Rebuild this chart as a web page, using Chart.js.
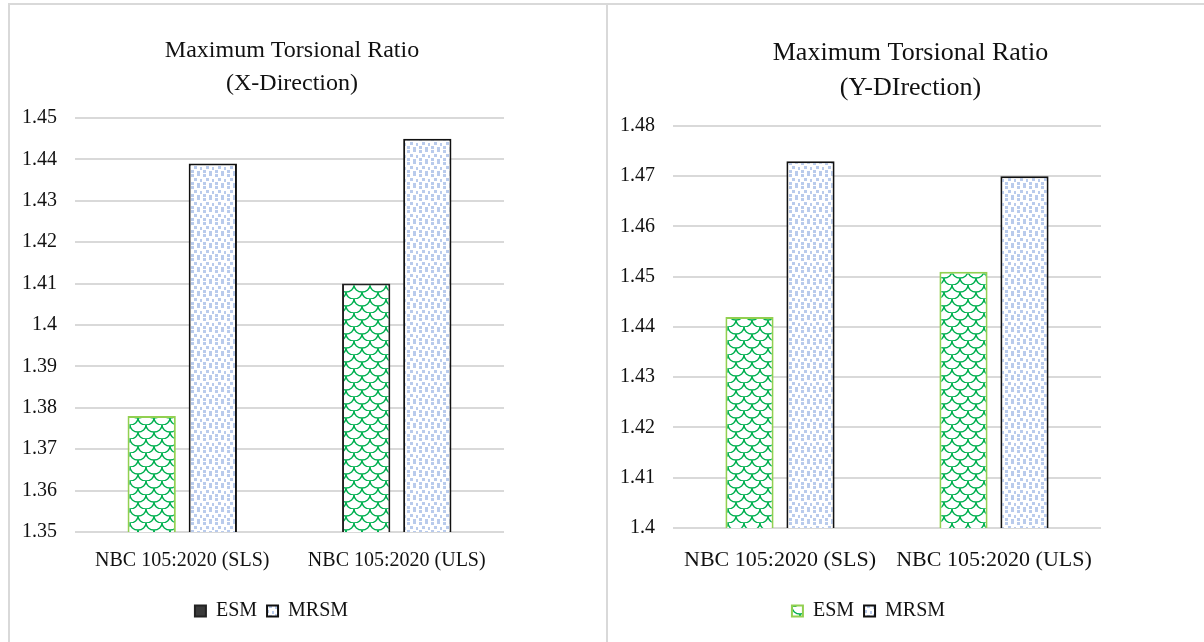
<!DOCTYPE html>
<html>
<head>
<meta charset="utf-8">
<script src="https://cdn.jsdelivr.net/npm/chart.js@4.4.0/dist/chart.umd.min.js"></script>
<style>
  html, body { margin: 0; padding: 0; background: #fff; }
  body { width: 1204px; height: 642px; position: relative; overflow: hidden; }
  .frame { position: absolute; background: #d9d9d9; }
  canvas { position: absolute; }
</style>
</head>
<body>
<div class="frame" style="left:8px;top:3px;width:1196px;height:2px"></div>
<div class="frame" style="left:8px;top:3px;width:2px;height:639px"></div>
<div class="frame" style="left:606px;top:3px;width:2px;height:639px"></div>
<canvas id="chartX" width="596" height="637" style="left:10px;top:5px"></canvas>
<canvas id="chartY" width="596" height="637" style="left:608px;top:5px"></canvas>
<script>
const categories = ["NBC 105:2020 (SLS)", "NBC 105:2020 (ULS)"];
const seriesNames = ["ESM", "MRSM"];

// X-direction values
const esmX = [1.378, 1.41];
const mrsmX = [1.439, 1.445];
// Y-direction values
const esmY = [1.442, 1.451];
const mrsmY = [1.473, 1.47];

const yTicksX = ["1.35", "1.36", "1.37", "1.38", "1.39", "1.4", "1.41", "1.42", "1.43", "1.44", "1.45"];
const yTicksY = ["1.4", "1.41", "1.42", "1.43", "1.44", "1.45", "1.46", "1.47", "1.48"];

const titleX = ["Maximum Torsional Ratio", "(X-Direction)"];
const titleY = ["Maximum Torsional Ratio", "(Y-DIrection)"];

const FONT = "'Liberation Serif', 'Times New Roman', serif";
const TEXT = "#111";
const GRID = "#d9d9d9";

// green shingle-like hatch used by ESM
function esmPattern() {
  const c = document.createElement("canvas");
  c.width = 16; c.height = 14;
  const g = c.getContext("2d");
  g.fillStyle = "#fff";
  g.fillRect(0, 0, 16, 14);
  g.strokeStyle = "#00b050";
  g.lineWidth = 1.4;
  g.beginPath();
  g.ellipse(8, 7, 8, 7, 0, 0, Math.PI);
  g.stroke();
  g.beginPath();
  g.ellipse(0, 0, 8, 7, 0, 0, Math.PI / 2);
  g.stroke();
  g.beginPath();
  g.ellipse(16, 0, 8, 7, 0, Math.PI / 2, Math.PI);
  g.stroke();
  return g.createPattern(c, "repeat");
}

// light blue confetti used by MRSM
function mrsmPattern() {
  const c = document.createElement("canvas");
  c.width = 12; c.height = 12;
  const g = c.getContext("2d");
  g.fillStyle = "#fff";
  g.fillRect(0, 0, 12, 12);
  g.fillStyle = "#b9cbec";
  [[1, 1], [7, 0], [4, 5], [10, 6], [1, 9], [7, 10]].forEach(([x, y]) => g.fillRect(x, y, 3, 3));
  return g.createPattern(c, "repeat");
}

const esmPat = esmPattern();
const mrsmPat = mrsmPattern();

// nudge title and legend sideways to sit where the original puts them
const boxShift = {
  id: "boxShift",
  afterLayout(chart, args, opts) {
    const t = chart.titleBlock;
    if (t && opts.titleDx) {
      t.left += opts.titleDx;
      t.right += opts.titleDx;
    }
    const l = chart.legend;
    if (l && opts.legendDx) {
      l.left += opts.legendDx;
      l.right += opts.legendDx;
    }
  }
};

function tickLabel(list) {
  return v => {
    const hit = list.find(l => Math.abs(parseFloat(l) - v) < 1e-6);
    return hit === undefined ? "" : hit;
  };
}

function makeChart(id, cfg) {
  return new Chart(document.getElementById(id), {
    type: "bar",
    data: {
      labels: categories,
      datasets: [
        {
          label: seriesNames[0],
          data: cfg.esm,
          backgroundColor: esmPat,
          borderColor: cfg.esmBorder,
          borderWidth: 2,
          legendFill: cfg.esmLegendFill,
          legendStroke: cfg.esmLegendStroke
        },
        {
          label: seriesNames[1],
          data: cfg.mrsm,
          backgroundColor: mrsmPat,
          borderColor: "#111",
          borderWidth: 2,
          legendFill: mrsmPat,
          legendStroke: "#111"
        }
      ]
    },
    plugins: [boxShift],
    options: {
      responsive: false,
      animation: false,
      categoryPercentage: 0.57,
      barPercentage: 0.79,
      layout: { padding: { left: 0, right: cfg.padRight, top: 0, bottom: 11 } },
      plugins: {
        boxShift: { titleDx: cfg.titleDx, legendDx: cfg.legendDx },
        tooltip: { enabled: false },
        title: {
          display: true,
          text: cfg.title,
          fullSize: false,
          color: TEXT,
          font: { family: FONT, size: cfg.titleSize, weight: "normal", lineHeight: cfg.titleLine },
          padding: { top: cfg.titleTop, bottom: cfg.titleBottom }
        },
        legend: {
          position: "bottom",
          labels: {
            boxWidth: 11,
            boxHeight: 11,
            padding: 10,
            color: TEXT,
            font: { family: FONT, size: 20 },
            generateLabels: chart => chart.data.datasets.map((ds, i) => ({
              text: ds.label,
              fillStyle: ds.legendFill,
              strokeStyle: ds.legendStroke,
              lineWidth: 2,
              fontColor: TEXT,
              hidden: false,
              datasetIndex: i
            }))
          }
        }
      },
      scales: {
        x: {
          grid: { display: false, drawTicks: false },
          border: { display: false },
          ticks: {
            color: TEXT,
            font: { family: FONT, size: cfg.catSize },
            padding: cfg.catPad,
            maxRotation: 0,
            autoSkip: false
          },
          afterFit: s => { s.height = cfg.xHeight; }
        },
        y: {
          min: cfg.min,
          max: cfg.max,
          grid: { color: GRID, lineWidth: 2, drawTicks: false },
          border: { display: false },
          ticks: {
            stepSize: 0.01,
            padding: 18,
            color: TEXT,
            font: { family: FONT, size: 20 },
            callback: tickLabel(cfg.ticks)
          },
          afterFit: s => { s.width = 65; }
        }
      }
    }
  });
}

makeChart("chartX", {
  esm: esmX,
  mrsm: mrsmX,
  esmBorder: ["#92d050", "#222"],
  esmLegendFill: "#3a3a3a",
  esmLegendStroke: "#222",
  title: titleX,
  titleSize: 24,
  titleLine: 1.375,
  titleTop: 29.5,
  titleBottom: 17.5,
  titleDx: 2.5,
  legendDx: 14.5,
  catSize: 20,
  catPad: 17,
  xHeight: 59,
  padRight: 102,
  min: 1.35,
  max: 1.45,
  ticks: yTicksX
});

makeChart("chartY", {
  esm: esmY,
  mrsm: mrsmY,
  esmBorder: "#92d050",
  esmLegendFill: esmPat,
  esmLegendStroke: "#92d050",
  title: titleY,
  titleSize: 26,
  titleLine: 1.346,
  titleTop: 31,
  titleBottom: 20,
  titleDx: 23.5,
  legendDx: 14,
  catSize: 22,
  catPad: 19,
  xHeight: 63,
  padRight: 103,
  min: 1.4,
  max: 1.48,
  ticks: yTicksY
});
</script>
</body>
</html>
